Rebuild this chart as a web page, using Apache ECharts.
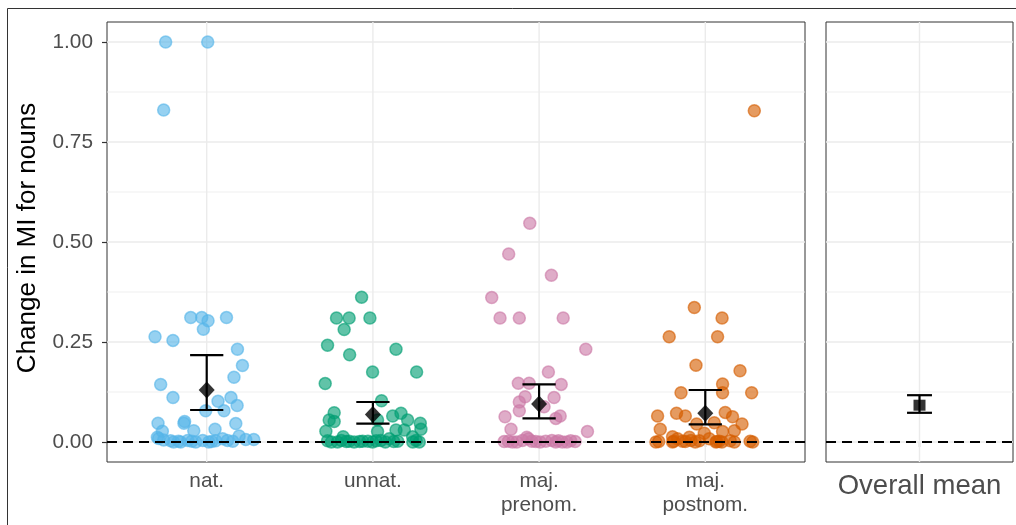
<!DOCTYPE html>
<html>
<head>
<meta charset="utf-8">
<script src="https://cdn.jsdelivr.net/npm/echarts@6/dist/echarts.min.js"></script>
<style>
  html, body { margin: 0; padding: 0; background: #fff; }
  #chart { width: 1016px; height: 525px; }
</style>
</head>
<body>
<div id="chart"></div>
<script>
// Condition labels (x positions 1..4 on the left panel)
const categories = ['nat.', 'unnat.', 'maj.\nprenom.', 'maj.\npostnom.'];
const overallLabel = 'Overall mean';
const colors = ['#56B4E9', '#009E73', '#CC79A7', '#D55E00'];

// Per-item values: [horizontal jitter in category units, change in MI]
const natPoints = [
  [-0.247, 1.00], [0.006, 1.00], [-0.259, 0.83],
  [-0.096, 0.311], [-0.030, 0.311], [0.008, 0.303], [-0.020, 0.282], [0.119, 0.311],
  [-0.311, 0.263], [-0.203, 0.254], [0.185, 0.232], [0.215, 0.191], [0.164, 0.162],
  [-0.277, 0.144], [-0.203, 0.111], [0.068, 0.102], [0.146, 0.111], [0.183, 0.091],
  [-0.006, 0.078], [0.104, 0.078], [-0.133, 0.051], [-0.137, 0.047], [-0.293, 0.047],
  [0.175, 0.046], [0.050, 0.032], [-0.078, 0.028], [-0.267, 0.027], [0.195, 0.015],
  [-0.297, 0.012],
  [-0.259, 0.005], [-0.199, 0], [-0.157, 0], [-0.114, 0.004], [-0.066, 0], [0.012, 0],
  [0.054, 0.003], [0.096, 0.008], [0.157, 0.002], [0.235, 0.006], [0.283, 0.006],
  [-0.217, 0.003], [-0.024, 0.004], [-0.289, 0.009], [-0.170, 0.002], [0.030, 0.001],
  [0.125, 0.004], [-0.090, 0.002]
];
const unnatPoints = [
  [-0.068, 0.362], [-0.219, 0.310], [-0.143, 0.310], [-0.018, 0.310], [-0.173, 0.281],
  [-0.273, 0.242], [-0.140, 0.218], [0.139, 0.232], [-0.002, 0.175], [0.263, 0.175],
  [-0.287, 0.146], [0.052, 0.103], [-0.233, 0.073], [0.119, 0.065], [0.169, 0.072],
  [-0.263, 0.055], [-0.233, 0.051], [0.209, 0.055], [0.285, 0.047], [0.028, 0.055],
  [-0.283, 0.027], [0.028, 0.026], [0.139, 0.030], [0.189, 0.030], [0.239, 0.013],
  [0.289, 0.032], [-0.179, 0.013],
  [-0.273, 0.003], [-0.213, 0], [-0.113, 0], [-0.062, 0.002], [-0.002, 0], [0.048, 0.004],
  [0.098, 0.008], [0.149, 0.002], [0.279, 0], [-0.143, 0.002], [-0.250, 0], [-0.190, 0.004],
  [-0.080, 0.001], [0.020, 0.003], [0.075, 0], [0.125, 0.001], [0.260, 0.004], [-0.030, 0.002],
  [0.240, 0], [-0.160, 0.001]
];
const prenomPoints = [
  [-0.056, 0.547], [-0.183, 0.470], [0.074, 0.417], [-0.285, 0.361], [-0.235, 0.310],
  [-0.119, 0.310], [0.145, 0.310], [0.281, 0.232], [0.056, 0.175], [-0.125, 0.147],
  [-0.060, 0.147], [0.133, 0.144], [-0.084, 0.113], [0.090, 0.111], [-0.119, 0.100],
  [-0.119, 0.078], [0.030, 0.088], [-0.205, 0.063], [0.127, 0.065], [0.101, 0.059],
  [-0.169, 0.032], [0.291, 0.026],
  [-0.185, 0.002], [-0.134, 0], [-0.064, 0.008], [-0.044, 0.002], [0.006, 0], [0.077, 0.004],
  [0.116, 0.003], [0.167, 0], [0.217, 0.001], [-0.074, 0.012], [-0.160, 0], [-0.100, 0.004],
  [-0.020, 0.001], [0.040, 0.002], [0.140, 0], [0.190, 0.003], [-0.210, 0.001], [0.100, 0]
];
const postnomPoints = [
  [0.295, 0.828], [-0.066, 0.336], [0.101, 0.310], [-0.217, 0.263], [0.074, 0.263],
  [-0.056, 0.192], [0.209, 0.178], [-0.146, 0.123], [0.104, 0.145], [0.104, 0.123],
  [0.279, 0.123], [-0.173, 0.072], [-0.120, 0.065], [-0.287, 0.065], [0.120, 0.074],
  [0.164, 0.063], [0.221, 0.045], [-0.271, 0.032], [-0.052, 0.045], [0.054, 0.048],
  [0.175, 0.028], [0.104, 0.026], [-0.006, 0.022], [-0.197, 0.013], [-0.096, 0.012],
  [-0.297, 0], [-0.197, 0], [-0.137, 0.002], [-0.086, 0.004], [-0.036, 0.003], [0.064, 0],
  [0.084, 0.002], [0.175, 0], [0.285, 0], [-0.167, 0.008], [0.024, 0.008], [-0.280, 0.001],
  [-0.190, 0.002], [-0.060, 0], [0.070, 0.001], [0.150, 0.003], [0.270, 0.002], [0.100, 0],
  [-0.120, 0.001]
];
const groupPoints = [natPoints, unnatPoints, prenomPoints, postnomPoints];

// Condition means with confidence bounds
const groupMeans = [0.130, 0.069, 0.095, 0.072];
const groupLower = [0.080, 0.046, 0.059, 0.044];
const groupUpper = [0.217, 0.100, 0.144, 0.130];

// Overall mean with confidence bounds
const overallMean = [0.092];
const overallLower = [0.073];
const overallUpper = [0.117];

// Axis breaks
const yTicks = [0, 0.25, 0.5, 0.75, 1];
const yMinorTicks = [0.125, 0.375, 0.625, 0.875];
const yMin = -0.05, yMax = 1.05;

const FONT = '"Liberation Sans", Arial, Helvetica, sans-serif';
const GRID_COLOR = '#ebebeb';

const chart = echarts.init(document.getElementById('chart'), null, { renderer: 'canvas' });

function hLine(style) {
  return function (params, api) {
    const cs = params.coordSys;
    const y = api.coord([api.value(0), api.value(1)])[1];
    return {
      type: 'line', silent: true,
      shape: { x1: cs.x, y1: y, x2: cs.x + cs.width, y2: y },
      style: style
    };
  };
}
function vLine(style) {
  return function (params, api) {
    const cs = params.coordSys;
    const x = api.coord([api.value(0), api.value(1)])[0];
    return {
      type: 'line', silent: true,
      shape: { x1: x, y1: cs.y, x2: x, y2: cs.y + cs.height },
      style: style
    };
  };
}
function errorBar(halfWidth) {
  return function (params, api) {
    const x = api.value(0);
    const lo = api.coord([x, api.value(1)]);
    const hi = api.coord([x, api.value(2)]);
    const left = api.coord([x - halfWidth, api.value(1)])[0];
    const right = api.coord([x + halfWidth, api.value(1)])[0];
    const style = { stroke: '#000', lineWidth: 2.2, fill: null };
    return {
      type: 'group',
      children: [
        { type: 'line', shape: { x1: lo[0], y1: lo[1], x2: hi[0], y2: hi[1] }, style: style },
        { type: 'line', shape: { x1: left, y1: lo[1], x2: right, y2: lo[1] }, style: style },
        { type: 'line', shape: { x1: left, y1: hi[1], x2: right, y2: hi[1] }, style: style }
      ]
    };
  };
}

function gridSeries(gi, xMid, xPositions) {
  return [
    {
      type: 'custom', xAxisIndex: gi, yAxisIndex: gi, z: 1, silent: true,
      renderItem: hLine({ stroke: GRID_COLOR, lineWidth: 0.8 }),
      data: yMinorTicks.map(v => [xMid, v])
    },
    {
      type: 'custom', xAxisIndex: gi, yAxisIndex: gi, z: 1, silent: true,
      renderItem: hLine({ stroke: GRID_COLOR, lineWidth: 1.4 }),
      data: yTicks.map(v => [xMid, v])
    },
    {
      type: 'custom', xAxisIndex: gi, yAxisIndex: gi, z: 1, silent: true,
      renderItem: vLine({ stroke: GRID_COLOR, lineWidth: 1.4 }),
      data: xPositions.map(p => [p, 0.5])
    },
    {
      type: 'custom', xAxisIndex: gi, yAxisIndex: gi, z: 3, silent: true,
      renderItem: hLine({ stroke: '#000', lineWidth: 2, lineDash: [10, 6] }),
      data: [[xMid, 0]]
    }
  ];
}

const catPositions = categories.map((c, i) => i + 1);

const pointSeries = groupPoints.map((pts, i) => ({
  type: 'scatter', xAxisIndex: 0, yAxisIndex: 0, z: 2, silent: true,
  symbol: 'circle', symbolSize: 12,
  itemStyle: { color: colors[i], borderColor: colors[i], borderWidth: 1.5, opacity: 0.62 },
  data: pts.map(([j, v]) => [catPositions[i] + j, v])
}));

const yAxisBase = {
  type: 'value', min: yMin, max: yMax,
  axisLine: { show: false },
  splitLine: { show: false },
  minorSplitLine: { show: false }
};

const option = {
  animation: false,
  backgroundColor: '#fff',
  textStyle: { fontFamily: FONT },
  graphic: [
    {
      type: 'rect', z: -10, silent: true,
      shape: { x: 7.5, y: 8.5, width: 1100, height: 600 },
      style: { fill: null, stroke: '#333', lineWidth: 1 }
    },
    {
      type: 'text', x: 28, y: 238, rotation: Math.PI / 2, silent: true,
      style: {
        text: 'Change in MI for nouns', fill: '#000', font: '26px ' + FONT,
        align: 'center', verticalAlign: 'middle'
      }
    }
  ],
  grid: [
    { left: 107, top: 22, width: 698, height: 440, show: true, borderColor: '#333', borderWidth: 1, backgroundColor: '#fff' },
    { left: 826, top: 22, width: 187, height: 440, show: true, borderColor: '#333', borderWidth: 1, backgroundColor: '#fff' }
  ],
  xAxis: [
    {
      type: 'value', gridIndex: 0, min: 0.4, max: 4.6,
      axisLine: { show: false },
      splitLine: { show: false },
      axisTick: { show: true, customValues: catPositions, length: 5, lineStyle: { color: '#333', width: 1.2 } },
      axisLabel: {
        customValues: catPositions, margin: 8,
        formatter: v => categories[Math.round(v) - 1],
        fontSize: 20.8, lineHeight: 23.5, color: '#4d4d4d', fontFamily: FONT
      }
    },
    {
      type: 'value', gridIndex: 1, min: 0.4, max: 1.6,
      axisLine: { show: false },
      splitLine: { show: false },
      axisTick: { show: true, customValues: [1], length: 5, lineStyle: { color: '#333', width: 1.2 } },
      axisLabel: {
        customValues: [1], margin: 10,
        formatter: () => overallLabel,
        fontSize: 27.5, color: '#4d4d4d', fontFamily: FONT
      }
    }
  ],
  yAxis: [
    Object.assign({}, yAxisBase, {
      gridIndex: 0,
      axisTick: { show: true, customValues: yTicks, length: 5, lineStyle: { color: '#333', width: 1.2 } },
      axisLabel: {
        customValues: yTicks, margin: 14,
        formatter: v => v.toFixed(2),
        fontSize: 20.8, color: '#4d4d4d', fontFamily: FONT
      }
    }),
    Object.assign({}, yAxisBase, {
      gridIndex: 1,
      axisTick: { show: false },
      axisLabel: { show: false }
    })
  ],
  series: [].concat(
    gridSeries(0, 2.5, catPositions),
    gridSeries(1, 1, [1]),
    pointSeries,
    [
      {
        type: 'custom', xAxisIndex: 0, yAxisIndex: 0, z: 4, silent: true,
        renderItem: errorBar(0.1),
        data: catPositions.map((p, i) => [p, groupLower[i], groupUpper[i]])
      },
      {
        type: 'scatter', xAxisIndex: 0, yAxisIndex: 0, z: 5, silent: true,
        symbol: 'diamond', symbolSize: [16, 17],
        itemStyle: { color: '#000' },
        data: catPositions.map((p, i) => [p, groupMeans[i]])
      },
      {
        type: 'custom', xAxisIndex: 1, yAxisIndex: 1, z: 4, silent: true,
        renderItem: errorBar(0.08),
        data: overallMean.map((m, i) => [1, overallLower[i], overallUpper[i]])
      },
      {
        type: 'scatter', xAxisIndex: 1, yAxisIndex: 1, z: 5, silent: true,
        symbol: 'rect', symbolSize: [12, 11],
        itemStyle: { color: '#000' },
        data: overallMean.map(m => [1, m])
      }
    ]
  )
};

chart.setOption(option);
</script>
</body>
</html>
